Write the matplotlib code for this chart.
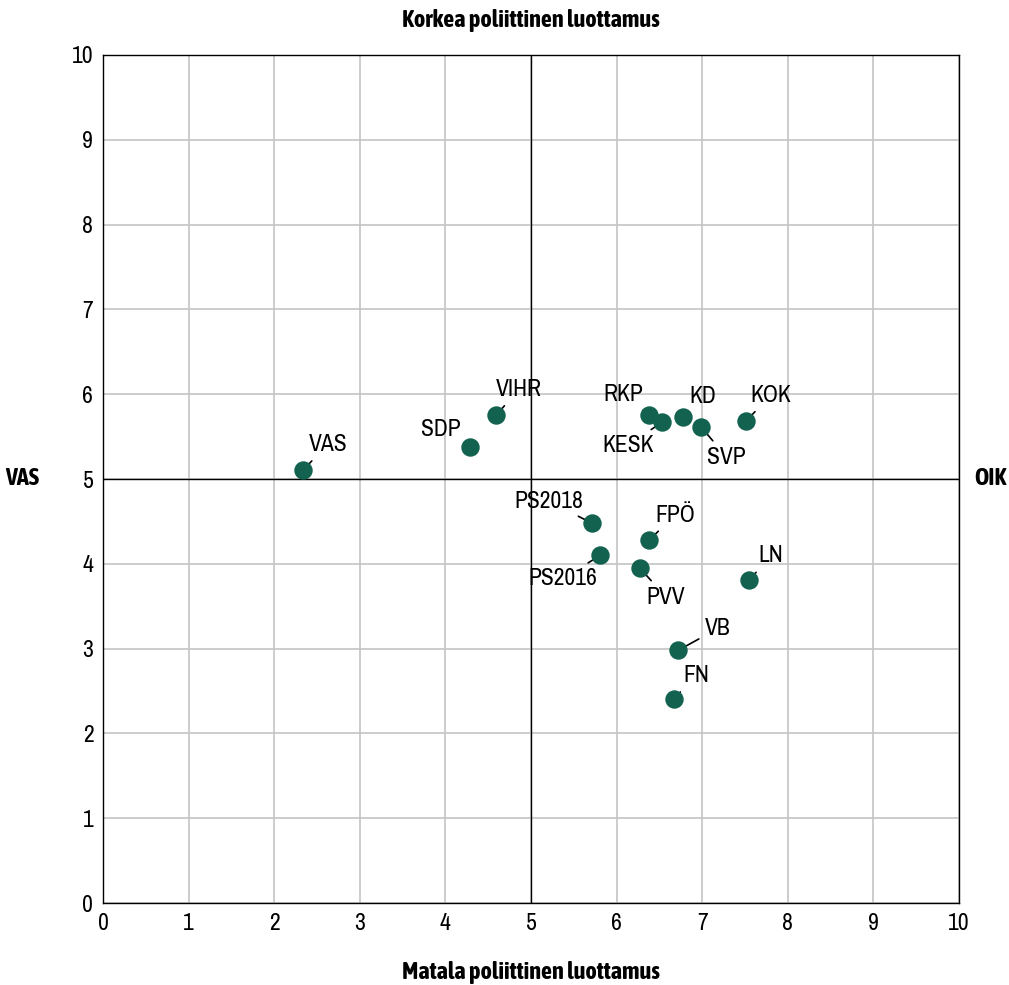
import numpy as np
import matplotlib.pyplot as plt
from matplotlib import font_manager

fonts = font_manager.fontManager.ttflist
narrow = [f for f in fonts if ('Narrow' in f.name or 'Condensed' in f.name)]
if narrow:
    reg = [f for f in narrow if f.weight in (400, 'normal', 'regular') and f.style == 'normal']
    bld = [f for f in narrow if f.weight in (700, 'bold') and f.style == 'normal']
    fam = (reg or narrow)[0].name
    bold_fam = bld[0].name if bld else fam
else:
    fam = 'Roboto'
    bold_fam = 'Roboto'
plt.rcParams['font.family'] = [fam, 'DejaVu Sans']

# data
parties = ['VAS', 'SDP', 'VIHR', 'RKP', 'KESK', 'KD', 'SVP', 'KOK',
           'PS2018', 'PS2016', 'FPÖ', 'PVV', 'LN', 'VB', 'FN']
x_vals = [2.34, 4.29, 4.59, 6.38, 6.53, 6.78, 6.99, 7.51,
          5.71, 5.81, 6.38, 6.27, 7.55, 6.72, 6.67]
y_vals = [5.11, 5.38, 5.75, 5.75, 5.67, 5.73, 5.61, 5.68,
          4.48, 4.10, 4.28, 3.95, 3.81, 2.98, 2.41]

# label offsets in pixels (dx, dy, ha)
offsets = {
    'VAS': (5, 25, 'left'), 'SDP': (-10, 17, 'right'), 'VIHR': (0, 26, 'left'),
    'RKP': (-6, 21, 'right'), 'KESK': (-8, -23, 'right'), 'KD': (6, 21, 'left'),
    'SVP': (6, -30, 'left'), 'KOK': (4, 26, 'left'), 'PS2018': (-9, 22, 'right'),
    'PS2016': (-3, -23, 'right'), 'FPÖ': (6, 25, 'left'), 'PVV': (7, -29, 'left'),
    'LN': (9, 24, 'left'), 'VB': (27, 22, 'left'), 'FN': (9, 23, 'left'),
}

fig = plt.figure(figsize=(10.09, 9.85), dpi=100)
ax = fig.add_axes([0.1021, 0.0832, 0.8484, 0.861])
ax.set_xlim(0, 10)
ax.set_ylim(0, 10)
ax.set_xticks(range(11))
ax.set_yticks(range(11))
ax.grid(True, color='#c4c4c4', linewidth=1.2)
ax.set_axisbelow(True)
ax.axvline(5, color='black', linewidth=1)
ax.axhline(5, color='black', linewidth=1)
for s in ax.spines.values():
    s.set_color('black')
    s.set_linewidth(1)
ax.tick_params(length=0, labelsize=17, pad=7)

ax.scatter(x_vals, y_vals, s=150, color='#12624f', zorder=4)
for name, xv, yv in zip(parties, x_vals, y_vals):
    dx, dy, ha = offsets[name]
    ax.annotate(name, (xv, yv), xytext=(dx, dy), textcoords='offset pixels',
                ha=ha, va='center', fontsize=17, zorder=3,
                arrowprops=dict(arrowstyle='-', color='black', lw=1.2, shrinkA=3, shrinkB=5))

bold = dict(fontsize=17.5, fontweight='bold', family=[bold_fam, 'DejaVu Sans'])
fig.text(0.526, 0.979, 'Korkea poliittinen luottamus', ha='center', va='center', **bold)
fig.text(0.526, 0.013, 'Matala poliittinen luottamus', ha='center', va='center', **bold)
fig.text(0.022, 0.514, 'VAS', ha='center', va='center', **bold)
fig.text(0.982, 0.514, 'OIK', ha='center', va='center', **bold)

fig.savefig('out.png', dpi=100)
